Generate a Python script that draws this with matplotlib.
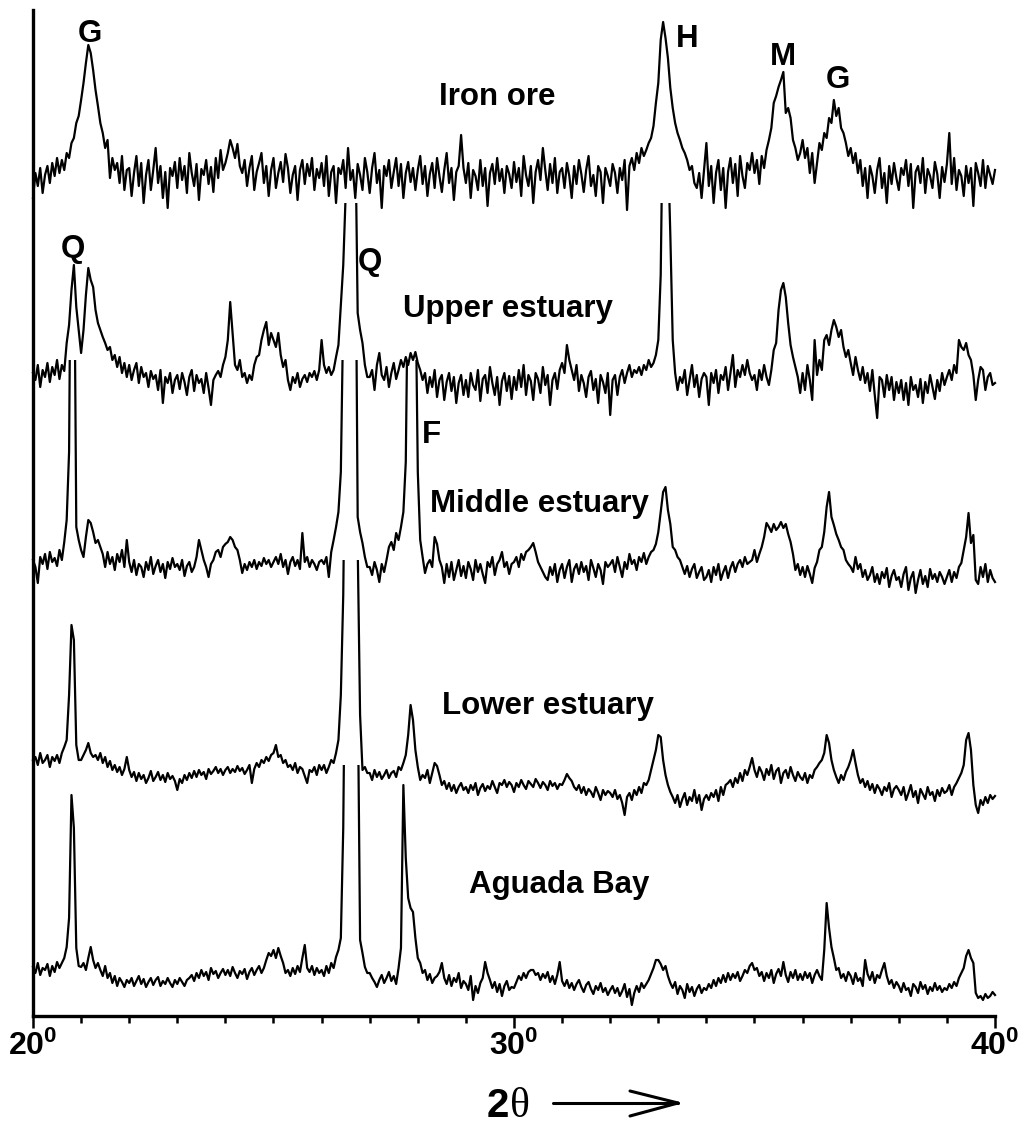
import numpy as np
import matplotlib
matplotlib.use('Agg')
import matplotlib.pyplot as plt
from matplotlib.patches import Rectangle
from matplotlib.lines import Line2D
from matplotlib.ticker import MultipleLocator

# scan grid, 2theta in degrees, 0.05 step
two_theta = np.linspace(20, 40, 401)

# intensities (arbitrary units, relative to each pattern's own baseline), one row per degree
iron_ore = [
    -20, 5, -8, 10, -15, 3, 12, -5, 15, 2, 20, 5, 18, 8, 25, 20, 35, 40, 55, 62,
    78, 95, 115, 133, 125, 108, 88, 72, 55, 45, 30, 38, 0, 20, 8, 15, -5, 22, -12, 8,
    10, -18, 5, 22, -8, 15, -25, 3, 18, -12, 8, 30, -5, 12, -20, 6, -30, 10, 2, 16,
    -10, 20, -2, 12, -15, 25, 5, -8, 14, -22, 9, 3, 18, -6, 11, -14, 20, 0, 28, 8,
    15, 25, 38, 30, 20, 34, 12, 5, 18, -8, 10, 22, -12, 6, 15, 25, -5, 12, -18, 8,
    20, -10, 5, 16, -4, 24, 10, -15, 3, 12, -22, 8, 18, -6, 14, 2, 20, -12, 9, 0,
    15, -8, 22, -18, 6, 12, -25, 10, 4, 18, -10, 30, -2, 8, -20, 14, 3, -12, 20, 6,
    -15, 10, 25, -5, 8, -30, 12, 2, 18, -10, 6, 20, -8, 14, -20, 5, 16, -4, 10, -12,
    8, 22, -6, 12, -18, 4, 15, -10, 20, 2, -14, 8, 25, -5, 10, -22, 6, 12, 43, 10,
    -5, 15, -20, 8, 2, -12, 18, -8, 10, -28, 5, 14, -6, 20, -3, 9, -15, 12, 4, -10,
    16, -4, 10, -18, 22, 3, -8, 12, -25, 6, 18, -2, 30, 8, -12, 14, -5, 20, -15, 6,
    10, -10, 15, 2, -20, 12, -6, 18, 4, -14, 8, 22, -8, 3, -18, 12, 6, -25, 10, 2,
    -8, 14, 5, -15, 10, -2, 18, -32, 12, 20, 8, 25, 15, 30, 22, 28, 35, 40, 52, 75,
    95, 138, 156, 140, 120, 90, 70, 55, 45, 38, 30, 25, 18, 8, 12, -5, -10, 5, -20, 8,
    35, -8, 12, -25, 5, 18, -12, 10, -30, 6, 20, -5, 14, -18, 22, 2, -10, 15, 8, 25,
    5, 18, -6, 22, 10, 28, 38, 50, 75, 82, 91, 98, 106, 65, 70, 60, 38, 30, 18, 25,
    38, 20, 30, 5, 25, -5, 15, 35, 28, 45, 40, 60, 55, 78, 62, 70, 50, 45, 35, 22,
    30, 15, 25, 5, 18, -8, 10, -20, 12, 2, -15, 8, 20, -10, 5, -25, 12, -6, 15, 0,
    -12, 10, 3, 18, -8, 14, -30, 6, 12, -5, 20, -15, 9, 2, -10, 16, 4, -20, 11, -4,
    14, 45, -6, 20, -12, 8, 2, -18, 12, -5, 10, -28, 15, 5, -8, 18, -10, 12, 3, -6,
    8]

upper_estuary = [
    12, 5, 20, -2, 15, 8, 22, 3, 18, 10, 25, 6, 20, 14, 42, 60, 95, 120, 78, 55,
    32, 55, 90, 117, 105, 98, 75, 62, 55, 48, 42, 35, 38, 25, 30, 18, 28, 12, 22, 8,
    20, 5, 15, 22, 2, 18, 8, 12, -2, 14, 6, 10, -5, 15, -18, 8, 2, 12, -8, 5,
    10, -4, 12, 3, -10, 8, 15, -6, 10, 2, 6, -8, 12, -3, -20, 5, 10, 14, 8, 20,
    28, 45, 83, 52, 20, 15, 25, 8, 12, 2, 10, 5, 20, 28, 30, 45, 55, 63, 40, 52,
    45, 38, 52, 30, 18, 25, 5, -5, 8, 2, 12, -2, 6, 10, 3, 12, 8, 14, 5, 15,
    45, 20, 12, 18, 10, 15, 28, 40, 80, 120, 190, 320, 420, 400, 260, 72, 55, 42, 20, 8,
    8, 15, -5, 20, 32, 10, 5, 18, -2, 12, 22, 6, 15, 25, 18, 28, 20, 32, 25, 33,
    22, 15, 5, 12, -8, 8, -2, 15, -12, 5, 10, -15, 3, 12, -6, 8, -18, 2, 10, -10,
    5, -12, 12, 0, -5, 15, -16, 6, 10, -8, 18, 2, -10, 8, -20, 4, 12, -6, 9, -14,
    8, -5, 15, -2, 20, -10, 10, 4, -15, 12, 6, -8, 18, 0, 10, -20, 5, 12, -4, 15,
    22, 12, 40, 25, 15, 5, 20, -6, 10, 2, -12, 8, 14, -5, 6, -18, 10, 3, -8, 12,
    -30, 5, 10, -10, 8, 15, 2, 12, 20, 8, 15, 12, 18, 10, 20, 15, 25, 18, 22, 30,
    45, 110, 300, 380, 240, 150, 45, 12, -5, 8, 2, 15, -10, 5, 20, -2, 10, -12, 6, 12,
    8, -20, 12, 2, 15, -8, 10, 5, 18, -5, 12, 30, -2, 15, 8, 20, 10, 25, 12, 5,
    10, -5, 15, 5, 20, 8, 0, 15, 35, 42, 75, 95, 102, 88, 62, 40, 28, 18, 8, -8,
    12, -5, 20, 5, -15, 45, 10, 25, 15, 45, 50, 40, 55, 65, 58, 48, 55, 38, 28, 35,
    22, 10, 28, 15, 5, 18, 2, 12, -6, 15, -10, -33, 8, 5, -12, 10, -5, 8, -15, 3,
    -8, 5, -15, 2, -20, 8, -5, 0, -12, 6, -18, 3, -8, 10, -2, -14, 5, -6, 12, 0,
    8, 15, 5, 20, 12, 45, 38, 35, 42, 30, 25, 10, -15, 5, 18, 15, -5, 8, 12, 0,
    2]

middle_estuary = [
    12, 5, -11, 15, 8, 18, 3, 20, 10, 14, 6, 22, 12, 30, 52, 120, 450, 380, 45, 32,
    22, 15, 35, 52, 49, 40, 29, 32, 25, 18, 5, 20, 8, 15, 2, 18, 10, 22, 5, 32,
    10, 0, 12, -3, 8, 5, -5, 10, 2, 15, -2, 6, 12, 0, 8, -6, 10, 3, 14, 5,
    8, 2, 12, -4, 6, 10, 0, 5, 15, 32, 22, 12, 5, -5, 8, 12, 20, 22, 15, 25,
    28, 30, 35, 32, 25, 22, 12, -1, 8, 2, 10, 5, 12, 3, 10, 6, 14, 8, 12, 5,
    10, 15, 8, 18, 5, 12, -2, 10, 15, 6, 12, 3, 39, 10, 15, 5, 12, 8, 2, 10,
    12, 8, 15, -5, 20, 32, 45, 60, 100, 260, 480, 600, 620, 580, 400, 55, 40, 29, 15, 5,
    5, -3, 10, 2, -10, 8, 0, 12, 25, 30, 22, 39, 32, 45, 60, 110, 320, 420, 380, 300,
    100, 32, 15, -1, 8, 12, 5, 35, 28, 12, 5, -11, 8, -5, 10, -8, 2, 12, -4, 6,
    -6, 10, 3, -8, 12, 0, 8, -2, -11, 10, 5, 15, -3, 8, 12, 20, 5, 10, -2, 8,
    10, 15, 5, 18, 12, 20, 22, 25, 29, 20, 10, 5, 0, -5, -8, 5, -3, 8, -10, 2,
    8, -6, 5, 12, -10, 3, 8, -2, 10, 0, 6, -8, 12, 4, -5, 8, 2, -12, 10, 5,
    8, 12, 0, 15, 5, -5, 10, 3, 18, 8, 12, 2, 15, 10, 19, 8, 15, 20, 22, 28,
    40, 60, 80, 85, 62, 48, 25, 22, 15, 12, 5, -2, 6, -5, 3, 8, -6, 0, 5, -8,
    -5, 2, -10, 5, -3, 8, -8, 0, 6, -6, 4, 10, 0, 8, 12, 5, 15, 8, 10, 12,
    22, 10, 18, 25, 35, 49, 45, 40, 48, 42, 45, 50, 44, 48, 38, 30, 18, 2, 8, -3,
    5, -5, 6, -2, -11, 4, 10, 22, 25, 40, 65, 80, 55, 47, 38, 32, 25, 22, 12, 8,
    5, 0, 15, 3, 8, -5, 2, -8, -3, 5, -10, -2, -12, 0, -6, 4, -15, -4, 2, -8,
    -5, -15, -2, 5, -18, -6, 0, -21, -8, 2, -12, -4, -15, 3, -7, -2, -10, 0, -5, -12,
    -5, 2, -10, 0, -6, 5, 9, 22, 35, 59, 29, 37, -8, -12, 5, -5, 8, -10, 2, -6,
    -10]

lower_estuary = [
    15, 18, 10, 22, 12, 15, 20, 8, 18, 14, 20, 12, 22, 28, 35, 80, 150, 135, 30, 15,
    15, 20, 25, 32, 22, 18, 20, 15, 22, 12, 18, 8, 14, 5, 10, 3, 8, 0, 6, 18,
    5, -2, 3, -6, 2, -4, 0, -8, -3, 4, -6, -2, 3, -5, 0, -7, 2, -4, -1, -6,
    -15, -4, -8, 0, -5, 2, -3, 4, -2, 5, 0, 3, -4, 6, 1, 4, 8, 2, 6, 0,
    5, 8, 2, 6, 3, 9, 4, 7, 1, 5, 10, -8, 6, 12, 8, 15, 12, 18, 14, 20,
    22, 30, 18, 20, 12, 15, 8, 10, 5, 12, 2, 8, 6, -1, -8, 5, 3, 8, 0, 10,
    5, 10, 2, 8, 15, 12, 22, 35, 80, 180, 400, 600, 700, 650, 450, 230, 60, 5, 8, 2,
    2, -5, 5, -2, 3, -4, 0, 5, -3, 2, 4, -2, 8, 5, 12, 20, 40, 70, 55, 25,
    8, -5, 0, -3, 5, -8, 2, 12, 9, 0, -10, -6, -14, -8, -16, -10, -18, -12, -8, -15,
    -12, -18, -10, -15, -8, -20, -13, -9, -16, -11, -14, -6, -12, -18, -8, -10, -5, -12, -7, -10,
    -17, -8, -12, -5, -10, -14, -6, -9, -12, -4, -8, -13, -7, -10, -15, -6, -11, -8, -14, -9,
    -10, -5, 1, -3, -6, -12, -15, -10, -18, -12, -20, -14, -17, -22, -12, -18, -25, -15, -20, -16,
    -18, -22, -15, -24, -20, -28, -40, -22, -18, -25, -15, -20, -12, -18, -8, -10, -5, 5, 15, 25,
    40, 38, 15, 0, -10, -17, -22, -28, -20, -32, -24, -18, -30, -22, -26, -15, -28, -20, -35, -24,
    -20, -25, -18, -22, -15, -26, -12, -20, -10, -8, -5, -12, -3, -8, 2, -6, 5, 0, 8, 17,
    5, -2, 8, 3, -5, 6, 0, 10, -4, 4, 7, -8, 2, 5, -3, 8, 0, -6, 3, -2,
    -5, 2, -8, 0, -3, 5, 8, 12, 15, 22, 40, 32, 15, 5, -2, -8, 0, -5, 3, 8,
    15, 25, 12, 0, -8, -4, -12, -6, -15, -9, -18, -10, -14, -20, -12, -16, -8, -22, -14, -11,
    -15, -20, -12, -25, -18, -10, -22, -16, -28, -14, -19, -24, -12, -20, -17, -26, -15, -21, -13, -18,
    -16, -10, -20, -12, -8, -3, 2, 10, 35, 42, 25, -10, -30, -38, -25, -30, -22, -28, -20, -24,
    -21]

aguada_bay = [
    11, 5, 15, 3, 10, 8, 14, 2, 12, 6, 16, 10, 15, 20, 31, 60, 183, 150, 30, 12,
    11, 15, 8, 20, 31, 18, 10, 15, 8, 2, 12, 0, 5, -5, 2, -8, 0, -4, -9, -2,
    -5, 0, -8, -3, 2, -6, -1, -9, -4, 0, -7, -2, 1, -8, -3, -6, 0, -5, -9, -2,
    -6, 0, -4, -8, -2, 0, 3, -3, 5, 0, 8, 2, 6, -2, 10, 4, 7, 0, 5, 9,
    3, 8, 2, 11, 5, 0, 7, 4, 9, -1, 6, 10, 3, 8, 12, 5, 10, 18, 25, 22,
    28, 20, 30, 22, 15, 5, 8, 2, 10, 4, 12, 6, 20, 33, 10, 6, 12, 3, 10, 5,
    8, 2, 12, 5, 15, 10, 21, 28, 40, 150, 400, 650, 800, 700, 500, 300, 38, 25, 11, 5,
    5, 0, -4, -9, -2, 3, -5, 0, 6, -3, 2, -6, 10, 30, 193, 120, 80, 70, 66, 40,
    20, 15, 5, 8, -2, 4, -5, 0, 2, 6, 15, 0, -6, 3, -8, 0, -4, 5, -10, -3,
    -6, -12, 2, -22, -8, -15, -5, 0, 16, 5, -2, -10, -4, -14, -6, -18, -8, -3, -12, -9,
    -10, -4, 2, -2, 5, 0, 6, 8, 8, 3, 5, -2, 4, 0, 6, -4, 2, -6, 3, 16,
    -3, -8, -2, -10, -5, -12, -6, -2, -9, -14, -7, -4, -11, -16, -8, -12, -5, -14, -10, -17,
    -12, -8, -15, -10, -18, -13, -6, -19, -11, -27, -15, -8, -14, -5, -10, -6, -2, 4, 10, 18,
    18, 14, 8, 12, 2, -5, -10, -4, -16, -8, -12, -20, -6, -14, -9, -18, -11, -7, -15, -10,
    -12, -6, -10, -2, -8, 0, -5, 3, -4, 5, -2, 4, 0, 6, -3, 2, 8, 5, 12, 15,
    8, 10, 2, 6, -3, 5, 0, 8, -5, 4, 9, 2, 16, 3, -4, 6, 0, 8, -2, 4,
    -2, 6, 0, 5, -5, 3, 8, 2, -2, 28, 75, 50, 31, 20, 8, 10, 0, 4, -3, 6,
    2, -6, 5, -3, 0, -8, 18, 4, -2, 6, -5, 3, 0, 8, 15, 2, -6, -2, -10, -4,
    -8, -14, -5, -12, -10, -18, -6, -9, -15, -4, -11, -7, -16, -9, -13, -5, -12, -8, -14, -10,
    -12, -6, -10, -4, -8, 0, 5, 10, 22, 28, 20, 15, -15, -20, -18, -22, -16, -20, -18, -14,
    -17]

names = ['Iron ore', 'Upper estuary', 'Middle estuary', 'Lower estuary', 'Aguada Bay']
traces = [iron_ore, upper_estuary, middle_estuary, lower_estuary, aguada_bay]

# layout (stacking offset, clipping height, label position) - not data
offsets = [838, 631, 444, 241, 38]
clip_top = [1006, 813, 656, 456, 251]
name_pos = [(29.65, 911), (29.875, 699), (30.52, 504), (30.71, 302), (30.94, 123)]
peak_labels = [('G', 21.185, 974), ('H', 33.6, 969), ('M', 35.59, 951), ('G', 36.74, 928),
               ('Q', 20.83, 759), ('Q', 27.0, 746), ('F', 28.29, 573)]

plt.rcParams['mathtext.fontset'] = 'custom'
plt.rcParams['mathtext.rm'] = 'Liberation Sans'
plt.rcParams['mathtext.bf'] = 'Liberation Sans:bold'

W, H = 1020, 1126
fig = plt.figure(figsize=(W / 100, H / 100), dpi=100)
ax = fig.add_axes([33 / W, 110 / H, 962 / W, 1006 / H])

for y, off, top in zip(traces, offsets, clip_top):
    line, = ax.plot(two_theta, np.array(y) + off, color='black', lw=1.6)
    line.set_clip_path(Rectangle((19, -50), 22, top + 50, transform=ax.transData))

txt = dict(fontsize=22.5, fontweight='bold', family='Liberation Sans', ha='center', va='baseline')
for name, (x, y) in zip(names, name_pos):
    ax.text(x, y, name, **txt)
for s, x, y in peak_labels:
    ax.text(x, y, s, **txt)

ax.set_xlim(20, 40)
ax.set_ylim(0, 1006)
for s in ['top', 'right']:
    ax.spines[s].set_visible(False)
ax.spines['left'].set_linewidth(2.4)
ax.spines['bottom'].set_linewidth(2.4)
ax.set_yticks([])
ax.set_xticks([20, 30, 40])
ax.set_xticklabels([r'$\mathbf{20^0}$', r'$\mathbf{30^0}$', r'$\mathbf{40^0}$'])
ax.xaxis.set_minor_locator(MultipleLocator(1))
ax.tick_params(axis='x', which='major', direction='out', length=8.6, width=1.8, labelsize=23, pad=2)
ax.tick_params(axis='x', which='minor', direction='out', length=5, width=1.8)

# x label: 2theta with an open arrow
fig.text(487 / W, (H - 1117) / H, '2', fontsize=29, fontweight='bold', family='Liberation Sans')
fig.text(510 / W, (H - 1117) / H, '\u03b8', fontsize=30, family='Liberation Serif')
def px(x, y):
    return x / W, (H - y) / H
for (x0, y0), (x1, y1) in [((553, 1103), (678, 1103)), ((630, 1091), (678, 1103)), ((630, 1116), (678, 1103))]:
    (a, b), (c, d) = px(x0, y0), px(x1, y1)
    fig.add_artist(Line2D([a, c], [b, d], color='black', lw=2.2, solid_capstyle='round', transform=fig.transFigure))

fig.savefig('out.png', dpi=100)
